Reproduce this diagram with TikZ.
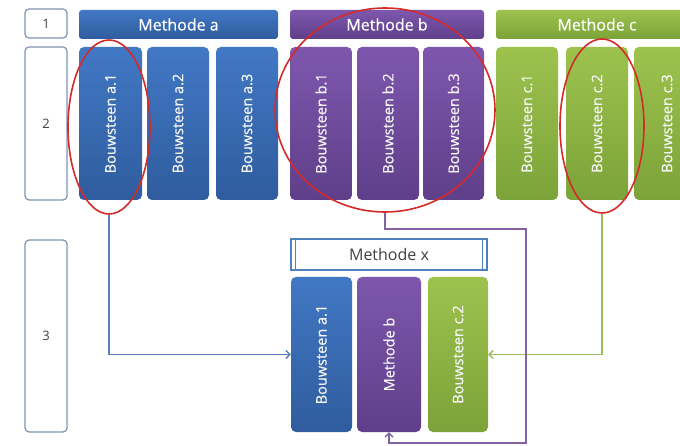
\documentclass[tikz,border=0pt]{standalone}
\usepackage{fontspec}
\setmainfont{Open Sans}
\newfontfamily\semib[FakeBold=0.6]{Open Sans}
\usetikzlibrary{arrows.meta}
\definecolor{bluetop}{HTML}{4178C4}
\definecolor{bluebot}{HTML}{2F5C9E}
\definecolor{purtop}{HTML}{7E57AD}
\definecolor{purbot}{HTML}{5F3F8A}
\definecolor{grntop}{HTML}{9DC24E}
\definecolor{grnbot}{HTML}{7CA339}
\definecolor{blueline}{HTML}{5B7FB8}
\definecolor{purline}{HTML}{8064A2}
\definecolor{grnline}{HTML}{9BBB59}
\definecolor{redring}{HTML}{D42A2A}
\definecolor{lblborder}{HTML}{7F93B5}
\definecolor{txtgray}{HTML}{404040}
\definecolor{xborder}{HTML}{4F81BD}
\tikzset{
  lbl/.style={draw=lblborder, line width=1.2pt, rounded corners=4pt, fill=white,
    minimum width=42pt, text=txtgray, font=\fontsize{13}{15}\selectfont, inner sep=0pt},
  hdr/.style={rounded corners=3pt, minimum height=29pt, text=white,
    font=\semib\fontsize{16}{18}\selectfont, inner sep=0pt},
  blk/.style={rounded corners=5pt, text=white, inner sep=0pt},
  blktxt/.style={text=white!92!gray, rotate=90, font=\semib\fontsize{14.5}{16}\selectfont, inner sep=0pt},
  bluefill/.style={top color=bluetop, bottom color=bluebot},
  purfill/.style={top color=purtop, bottom color=purbot},
  grnfill/.style={top color=grntop, bottom color=grnbot},
  ring/.style={draw=redring, line width=1.6pt, ellipse, inner sep=0pt},
  conn/.style={line width=1.4pt, -{Straight Barb[length=4pt,width=8pt]}},
}
\usetikzlibrary{shapes.geometric}
\begin{document}
\begin{tikzpicture}[x=1pt,y=-1pt]
\clip (0,0) rectangle (680,446);
\fill[white] (0,0) rectangle (680,446);
% left label boxes
\node[lbl, minimum height=29pt] (l1) at (46,23.5) {1};
\node[lbl, minimum height=153pt] (l2) at (46,123.5) {2};
\node[lbl, minimum height=192pt] (l3) at (46,336) {3};
% headers
\node[hdr, bluefill, minimum width=199pt] (ha) at (178.5,24.5) {Methode a};
\node[hdr, purfill, minimum width=194pt] (hb) at (387,24.5) {Methode b};
\node[hdr, grnfill, minimum width=202pt] (hc) at (597,24.5) {Methode c};
% row 2 blocks
\foreach \n/\x/\w/\f/\t in {
  a1/110.5/63/bluefill/Bouwsteen a.1,
  a2/178/62/bluefill/Bouwsteen a.2,
  a3/247/62/bluefill/Bouwsteen a.3,
  b1/321/62/purfill/Bouwsteen b.1,
  b2/388/62/purfill/Bouwsteen b.2,
  b3/453.5/61/purfill/Bouwsteen b.3,
  c1/527/62/grnfill/Bouwsteen c.1,
  c2/597/62/grnfill/Bouwsteen c.2,
  c3/667/66/grnfill/Bouwsteen c.3}{
  \node[blk, \f, minimum width=\w pt, minimum height=153pt] (\n) at (\x,123.5) {};
  \node[blktxt] (t\n) at (\n.center) {\t};
}
% red rings
\node[ring, minimum width=82pt, minimum height=174pt] (ea) at (109,127) {};
\node[ring, minimum width=220pt, minimum height=204pt] (eb) at (385,110) {};
\node[ring, minimum width=84pt, minimum height=174pt] (ec) at (602,126) {};
% row 3
\node[draw=xborder, line width=1.2pt, fill=white, minimum width=196pt, minimum height=31pt,
  text=txtgray, font=\fontsize{16}{18}\selectfont, inner sep=0pt] (hx) at (389,254.5) {Methode x};
\draw[xborder, line width=1pt] ([xshift=5pt]hx.north west) -- ([xshift=5pt]hx.south west);
\draw[xborder, line width=1pt] ([xshift=-5pt]hx.north east) -- ([xshift=-5pt]hx.south east);
\node[blk, bluefill, minimum width=61pt, minimum height=155pt] (xa) at (321.5,354.5) {};
\node[blktxt] at (xa.center) {Bouwsteen a.1};
\node[blk, purfill, minimum width=64pt, minimum height=155pt] (xb) at (389,354.5) {};
\node[blktxt] at (xb.center) {Methode b};
\node[blk, grnfill, minimum width=60pt, minimum height=155pt] (xc) at (458,354.5) {};
\node[blktxt] at (xc.center) {Bouwsteen c.2};
% connectors
\coordinate (p1) at (526,229);
\coordinate (p2) at (526,443);
\draw[conn, blueline] (ea.south) |- (xa.west);
\draw[conn, grnline] (ec.south) |- (xc.east);
\draw[conn, purline] (eb.south) |- (p1) -- (p2) -| (xb.south);
\end{tikzpicture}
\end{document}
